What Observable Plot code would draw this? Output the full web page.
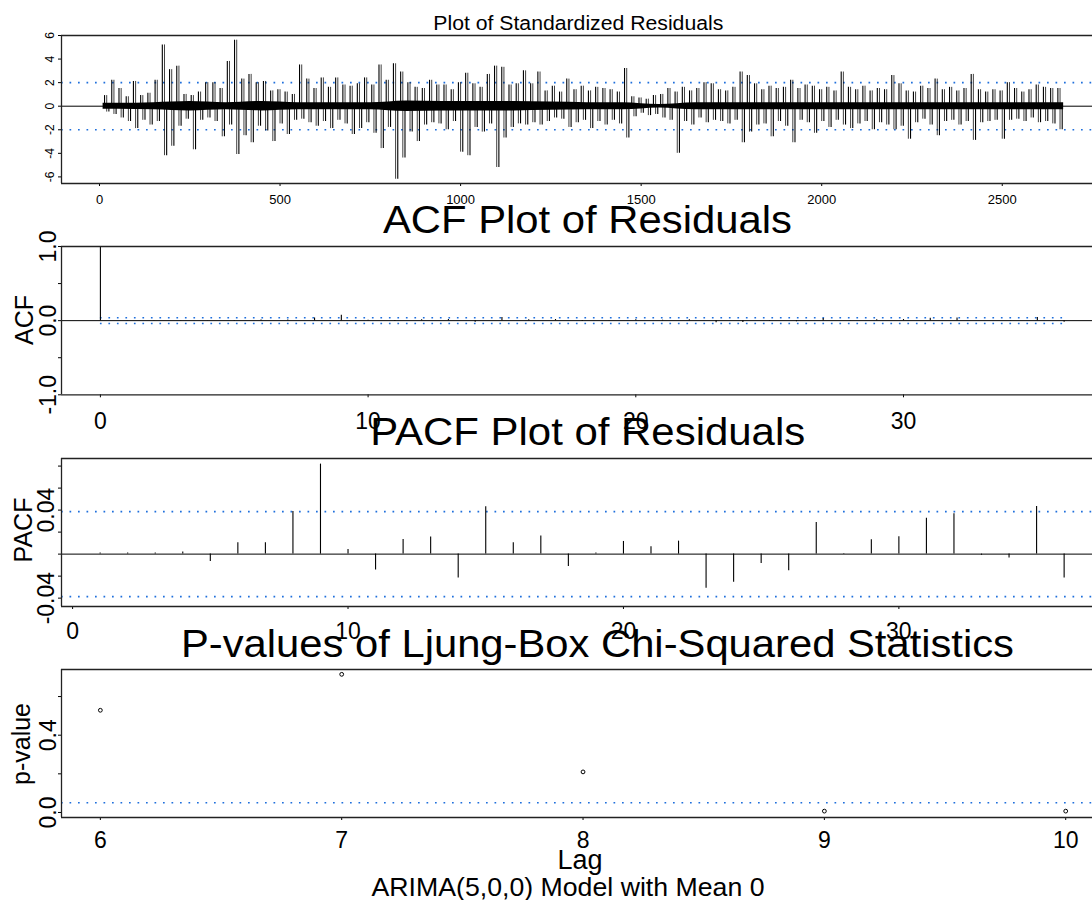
<!DOCTYPE html>
<html><head><meta charset="utf-8">
<script src="https://cdn.jsdelivr.net/npm/d3@7"></script>
<script src="https://cdn.jsdelivr.net/npm/@observablehq/plot@0.6"></script>
<style>
html,body{margin:0;padding:0;background:#fff;overflow:hidden;}
#chart{position:relative;width:1092px;height:900px;overflow:hidden;background:#fff;}
#chart svg{position:absolute;left:0;}
</style></head><body><div id="chart"></div>
<script>
// ---------- data ----------
// standardized residuals: per 20-observation block, highest and lowest value read from the picture
const residBlockStart = 10;
const residBlockSize = 20;
const residHi = [0.9,2.2,1.5,0.8,2.1,0.9,1.1,2.2,5.2,3.1,
  3.4,1.0,0.9,1.2,2.0,2.0,1.5,3.8,5.6,2.3,
  2.7,2.0,2.1,1.3,1.4,1.2,1.0,3.5,2.3,1.5,
  2.4,1.6,2.4,1.8,1.7,1.9,2.4,1.8,3.5,2.2,
  3.6,2.9,2.0,1.6,1.5,2.2,1.8,1.8,1.4,2.0,
  2.8,1.9,1.6,2.7,3.4,3.3,1.8,1.9,3.0,1.9,
  2.9,1.3,1.7,1.2,2.3,1.4,1.7,1.3,1.6,1.5,
  1.4,1.2,3.2,0.8,0.7,0.6,0.9,1.0,1.5,1.2,
  1.6,1.3,1.5,2.0,1.9,1.4,1.3,1.6,2.9,2.6,
  1.9,1.4,1.7,1.5,1.6,2.2,1.5,1.8,1.7,1.4,
  1.6,1.3,2.9,1.6,1.4,1.7,1.3,1.5,1.4,2.6,
  1.9,1.3,1.2,1.7,1.5,2.3,1.4,1.6,1.3,1.5,
  2.7,1.4,1.2,1.4,1.3,2.0,1.5,1.2,1.4,1.8,
  1.6,1.5,1.5];
const residLo = [-0.5,-0.7,-1.0,-1.3,-1.9,-1.2,-1.6,-1.3,-4.2,-3.4,
  -1.7,-1.1,-3.7,-1.2,-1.0,-1.3,-2.6,-1.6,-4.1,-2.5,
  -3.1,-1.7,-2.1,-3.0,-1.5,-2.4,-1.2,-1.1,-1.4,-1.7,
  -1.3,-1.9,-1.2,-1.5,-2.4,-1.9,-1.4,-2.3,-3.6,-1.8,
  -6.2,-4.4,-2.2,-3.0,-1.6,-1.4,-1.5,-2.0,-1.3,-3.9,
  -4.2,-1.8,-2.2,-1.5,-5.2,-2.7,-1.8,-1.5,-1.6,-1.4,
  -1.6,-1.3,-1.0,-1.1,-1.8,-1.4,-1.2,-1.9,-1.3,-1.6,
  -1.2,-1.5,-2.7,-0.9,-0.6,-0.8,-0.7,-1.0,-1.2,-4.0,
  -1.3,-1.6,-1.0,-1.4,-1.2,-1.3,-1.5,-1.2,-3.1,-2.2,
  -1.6,-1.5,-2.6,-1.3,-1.7,-3.1,-1.2,-1.4,-2.3,-1.3,
  -1.8,-1.2,-1.6,-1.9,-1.5,-1.3,-2.0,-1.4,-1.6,-2.0,
  -1.7,-2.8,-1.4,-1.1,-1.6,-2.5,-1.3,-1.2,-1.6,-1.3,
  -2.9,-1.4,-1.3,-1.2,-2.8,-1.2,-1.1,-1.3,-1.0,-1.4,
  -1.3,-1.5,-2.0];
const residCoreStep = 100;
const residCore = [0.25,0.3,0.4,0.3,0.4,0.3,0.3,0.3,0.45,0.4,
  0.4,0.4,0.35,0.3,0.3,0.15,0.3,0.3,0.3,0.3,
  0.3,0.3,0.3,0.3,0.3,0.3,0.3];
const residFirst = 10, residLast = 2670;
const residXTicks = [0,500,1000,1500,2000,2500];
const residYTicks = [-6,-4,-2,0,2,4,6];
const residBands = [-2,2];

const acfLags = d3.range(0,37);
const acfValues = [1,0.001,0.001,0.001,0.002,-0.007,0.010,0.010,0.037,0.072,
  0.006,-0.012,0.013,0.016,-0.020,0.042,0.012,0.015,-0.010,0.002,
  0.011,0.007,0.012,-0.030,-0.024,-0.009,-0.014,0.028,0.001,0.012,
  0.015,0.031,0.035,-0.001,-0.004,0.041,-0.020];
const acfXTicks = [0,10,20,30];
const acfYTicks = [-1,-0.5,0,0.5,1];
const acfYLabels = [-1,0,1];

const pacfLags = d3.range(1,37);
const pacfValues = [0.001,0.001,0.001,0.002,-0.0067,0.0103,0.0103,0.0388,0.0818,0.0042,
  -0.0145,0.0133,0.0155,-0.0218,0.043,0.0103,0.0164,-0.0112,0.001,0.0115,
  0.0067,0.0118,-0.031,-0.0255,-0.0085,-0.0152,0.0288,0.0006,0.013,0.0158,
  0.0327,0.0367,-0.001,-0.0036,0.0433,-0.0218];
const pacfXTicks = [0,10,20,30];
const pacfYTicks = [-0.04,-0.02,0,0.02,0.04,0.06,0.08];
const pacfYLabels = [-0.04,0.04];
const ciBound = 0.0386;

const lbLags = [6,7,8,9,10];
const lbPValues = [0.529,0.715,0.21,0.007,0.007];
const lbXTicks = [6,7,8,9,10];
const lbYTicks = [0,0.2,0.4,0.6];
const lbYLabels = [0,0.4];
const pThreshold = 0.05;

// ---------- tables ----------
const residBlocks = residHi.map((hi,k) => ({t0: residBlockStart + k*residBlockSize, hi, lo: residLo[k]}));
const residSpikes = residBlocks.flatMap(b => [
  {t: b.t0 + residBlockSize*0.2, v: b.hi},
  {t: b.t0 + residBlockSize*0.8, v: b.lo}
]);
const residCoreData = residCore.map((c,i) => ({t: Math.min(residLast, Math.max(residFirst, i*residCoreStep + residCoreStep/2)), c}));
residCoreData.unshift({t: residFirst, c: residCore[0]});
residCoreData.push({t: residLast, c: residCore[residCore.length-1]});
const acfData = acfLags.map((lag,i) => ({lag, value: acfValues[i]}));
const pacfData = pacfLags.map((lag,i) => ({lag, value: pacfValues[i]}));
const lbData = lbLags.map((lag,i) => ({lag, p: lbPValues[i]}));

// ---------- drawing ----------
const FONT = '"Liberation Sans", Arial, Helvetica, sans-serif';
const BLUE = "#1f6fdc";
const DOTS = "1.7,6.8";
const chart = document.getElementById("chart");

function panel({top, frameH, mt = 10, mb = 45, x, y, marks}) {
  const svg = Plot.plot({
    width: 1092, height: mt + frameH + mb,
    marginLeft: 61, marginRight: 0, marginTop: mt, marginBottom: mb,
    style: {background: "transparent", overflow: "visible", fontFamily: FONT, color: "#000"},
    x: {domain: x}, y: {domain: y},
    marks: [
      ...marks,
      Plot.ruleY(y, {stroke: "#222", strokeWidth: 1.3}),
      Plot.ruleX([x[0]], {stroke: "#222", strokeWidth: 1.3})
    ]
  });
  svg.style.top = (top - mt) + "px";
  chart.append(svg);
}
const fmtLabels = (labels, digits) => d => labels.includes(d) ? d.toFixed(digits) : "";
const dotted = {stroke: BLUE, strokeDasharray: DOTS, strokeWidth: 1.6};

// 1. standardized residuals
panel({
  top: 35, frameH: 148, mt: 35, mb: 30,
  x: [-105.2, 2749.9], y: [-6.56, 6.0],
  marks: [
    Plot.ruleY(residBands, dotted),
    Plot.ruleY([0], {stroke: "#000", strokeWidth: 1}),
    Plot.areaY(residCoreData, {x: "t", y1: d => -d.c, y2: "c", fill: "#000", curve: "monotone-x"}),
    Plot.ruleX(residBlocks, {x: d => d.t0 + residBlockSize/2, y1: "lo", y2: "hi", stroke: "#000", strokeOpacity: 0.75, strokeWidth: 1}),
    Plot.ruleX(residSpikes, {x: "t", y1: 0, y2: "v", stroke: "#000", strokeWidth: 1.1}),
    Plot.axisX({ticks: residXTicks, tickSize: 3, tickPadding: 8, fontSize: 13, label: null, tickFormat: d => String(d)}),
    Plot.axisY({ticks: residYTicks, tickSize: 3, tickRotate: -90, tickPadding: 4.7, fontSize: 12, label: null, tickFormat: d => String(d)})
  ]
});

// 2. ACF
panel({
  top: 246, frameH: 148.3,
  x: [-1.453, 37.06], y: [-1, 1],
  marks: [
    Plot.ruleY([0], {stroke: "#000", strokeWidth: 1}),
    Plot.ruleY([-ciBound, ciBound], {x1: acfLags[0], x2: acfLags[acfLags.length-1], ...dotted}),
    Plot.ruleX(acfData, {x: "lag", y1: 0, y2: "value", stroke: "#000", strokeWidth: 1.1}),
    Plot.axisX({ticks: acfXTicks, tickSize: 3, tickPadding: 14.4, fontSize: 23, label: null, tickFormat: d => String(d)}),
    Plot.axisY({ticks: acfYTicks, tickSize: 3, tickRotate: -90, tickPadding: 2.5, fontSize: 23, label: null, tickFormat: fmtLabels(acfYLabels, 1)})
  ]
});

// 3. PACF
panel({
  top: 457.7, frameH: 148,
  x: [-0.403, 37.03], y: [-0.0476, 0.0869],
  marks: [
    Plot.ruleY([-ciBound, ciBound], dotted),
    Plot.ruleY([0], {stroke: "#000", strokeWidth: 1}),
    Plot.ruleX(pacfData, {x: "lag", y1: 0, y2: "value", stroke: "#000", strokeWidth: 1.1}),
    Plot.axisX({ticks: pacfXTicks, tickSize: 3, tickPadding: 13, fontSize: 23, label: null, tickFormat: d => String(d)}),
    Plot.axisY({ticks: pacfYTicks, tickSize: 3, tickRotate: -90, tickPadding: 4.7, fontSize: 23, label: null, tickFormat: fmtLabels(pacfYLabels, 2)})
  ]
});

// 4. Ljung-Box p-values
panel({
  top: 669.3, frameH: 148,
  x: [5.839, 10.111], y: [-0.026, 0.740],
  marks: [
    Plot.ruleY([pThreshold], dotted),
    Plot.dot(lbData, {x: "lag", y: "p", r: 1.9, stroke: "#000", fill: "none", strokeWidth: 1}),
    Plot.axisX({ticks: lbXTicks, tickSize: 3, tickPadding: 11.4, fontSize: 23, label: null, tickFormat: d => String(d)}),
    Plot.axisY({ticks: lbYTicks, tickSize: 3, tickRotate: -90, tickPadding: 2.5, fontSize: 23, label: null, tickFormat: fmtLabels(lbYLabels, 1)})
  ]
});

// ---------- titles and axis titles ----------
const overlay = d3.create("svg")
  .attr("width", 1092).attr("height", 900)
  .style("top", "0px").style("overflow", "visible")
  .style("font-family", FONT);
const labels = [
  {text: "Plot of Standardized Residuals", x: 578.3, y: 29.5, size: 20, len: 290},
  {text: "ACF Plot of Residuals", x: 587.4, y: 233, size: 38, len: 409},
  {text: "PACF Plot of Residuals", x: 587.7, y: 445, size: 38, len: 435},
  {text: "P-values of Ljung-Box Chi-Squared Statistics", x: 597.5, y: 656.7, size: 38, len: 833},
  {text: "Lag", x: 580, y: 869.3, size: 27},
  {text: "ARIMA(5,0,0) Model with Mean 0", x: 568, y: 896, size: 25, len: 393},
  {text: "ACF", x: 33, y: 320, size: 25, rot: true},
  {text: "PACF", x: 31.7, y: 530, size: 25, rot: true},
  {text: "p-value", x: 30, y: 744, size: 25, rot: true}
];
for (const l of labels) {
  const t = overlay.append("text")
    .attr("text-anchor", "middle")
    .attr("font-size", l.size)
    .attr("fill", "#000")
    .text(l.text);
  if (l.rot) t.attr("transform", `translate(${l.x},${l.y}) rotate(-90)`);
  else t.attr("x", l.x).attr("y", l.y);
  if (l.len) t.attr("textLength", l.len).attr("lengthAdjust", "spacingAndGlyphs");
}
chart.append(overlay.node());
</script></body></html>
